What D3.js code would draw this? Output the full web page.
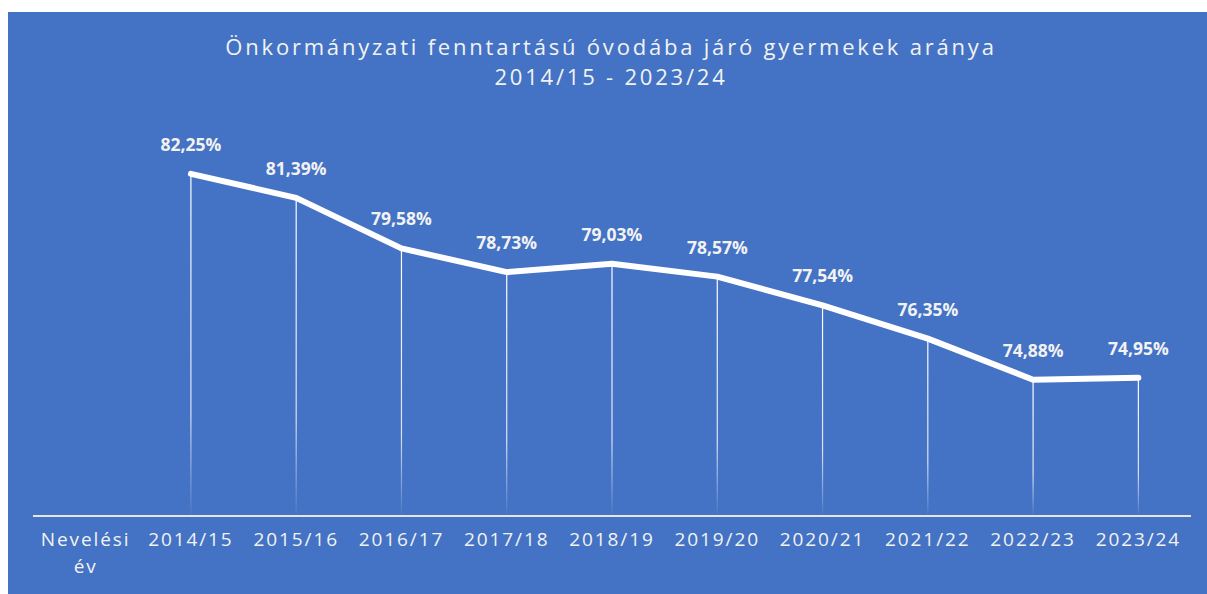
<!DOCTYPE html>
<html lang="hu">
<head>
<meta charset="UTF-8">
<title>Önkormányzati fenntartású óvodába járó gyermekek aránya</title>
<style>
    body { margin: 0; background: #ffffff; }
    svg { display: block; }
    text { font-family: "Open Sans", Calibri, sans-serif; fill: #f2f2f2; }
</style>
</head>
<body>
<svg id="chart"></svg>
<script src="https://d3js.org/d3.v7.min.js"></script>
<script>
// data
const axisTitle = ['Nevelési', 'év'];
const years = ['2014/15', '2015/16', '2016/17', '2017/18', '2018/19',
               '2019/20', '2020/21', '2021/22', '2022/23', '2023/24'];
const shares = [82.25, 81.39, 79.58, 78.73, 79.03, 78.57, 77.54, 76.35, 74.88, 74.95];
const titleLines = ['Önkormányzati fenntartású óvodába járó gyermekek aránya', '2014/15 - 2023/24'];

const width = 1207, height = 594;
const svg = d3.select('#chart').attr('width', width).attr('height', height);

// chart area (blue panel)
svg.append('rect')
    .attr('x', 8).attr('y', 12)
    .attr('width', width - 8).attr('height', height - 12)
    .attr('fill', '#4472c4');

const margin = { top: 97, bottom: 516, left: 33, right: 1191 };

// first band holds the category axis title, like the spreadsheet
const x = d3.scaleBand()
    .domain(['__title'].concat(years))
    .range([margin.left, margin.right]);

const y = d3.scaleLinear()
    .domain([70, 85])
    .range([margin.bottom, margin.top]);

const data = years.map((yr, i) => ({ year: yr, value: shares[i] }));
const cx = d => x(d.year) + x.bandwidth() / 2;

// fading drop lines
const defs = svg.append('defs');
const grad = defs.append('linearGradient')
    .attr('id', 'fade').attr('x1', 0).attr('y1', 0).attr('x2', 0).attr('y2', 1);
grad.append('stop').attr('offset', '0%').attr('stop-color', '#ffffff').attr('stop-opacity', 1);
grad.append('stop').attr('offset', '70%').attr('stop-color', '#ffffff').attr('stop-opacity', 0.8);
grad.append('stop').attr('offset', '100%').attr('stop-color', '#ffffff').attr('stop-opacity', 0.05);

svg.append('g').selectAll('rect')
    .data(data)
    .enter().append('rect')
    .attr('x', d => cx(d) - 0.6)
    .attr('y', d => y(d.value))
    .attr('width', 1.2)
    .attr('height', d => y.range()[0] - 2 - y(d.value))
    .attr('fill', 'url(#fade)');

// axis line
svg.append('line')
    .attr('x1', margin.left).attr('x2', margin.right)
    .attr('y1', margin.bottom).attr('y2', margin.bottom)
    .attr('stroke', '#e6e6e6').attr('stroke-width', 2);

// the line
const line = d3.line()
    .x(cx)
    .y(d => y(d.value));

svg.append('path')
    .datum(data)
    .attr('d', line)
    .attr('fill', 'none')
    .attr('stroke', '#ffffff')
    .attr('stroke-width', 6)
    .attr('stroke-linecap', 'round')
    .attr('stroke-linejoin', 'round');

// value labels
svg.append('g').selectAll('text')
    .data(data)
    .enter().append('text')
    .attr('x', cx)
    .attr('y', d => y(d.value) - 23)
    .attr('text-anchor', 'middle')
    .style('font-size', '17.5px')
    .style('font-weight', 'bold')
    .text(d => d.value.toFixed(2).replace('.', ',') + '%');

// category labels
const tickY = 546;
svg.append('g').selectAll('text')
    .data(years)
    .enter().append('text')
    .attr('x', d => x(d) + x.bandwidth() / 2)
    .attr('y', tickY)
    .attr('text-anchor', 'middle')
    .style('font-size', '19px')
    .style('letter-spacing', '1.9px')
    .text(d => d);

svg.append('g').selectAll('text')
    .data(axisTitle)
    .enter().append('text')
    .attr('x', x('__title') + x.bandwidth() / 2)
    .attr('y', (d, i) => tickY + i * 27)
    .attr('text-anchor', 'middle')
    .style('font-size', '19px')
    .style('letter-spacing', '1.9px')
    .text(d => d);

// title
svg.append('g').selectAll('text')
    .data(titleLines)
    .enter().append('text')
    .attr('x', 611)
    .attr('y', (d, i) => 55 + i * 30)
    .attr('text-anchor', 'middle')
    .style('font-size', '22px')
    .style('letter-spacing', '2.8px')
    .text(d => d);
</script>
</body>
</html>
